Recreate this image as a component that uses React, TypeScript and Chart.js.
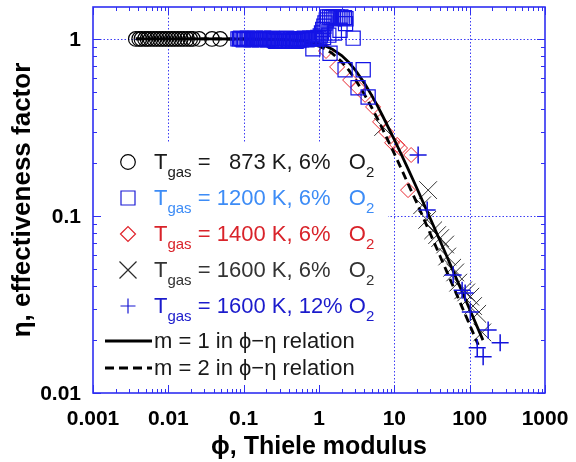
import { useEffect, useRef } from 'react';
import { Chart, registerables } from 'chart.js';

Chart.register(...registerables);

// ---------------- data ----------------
const xTickValues = [0.001, 0.01, 0.1, 1, 10, 100, 1000];
const yTickValues = [0.01, 0.1, 1];
const xGridValues = [0.01, 0.1, 1, 10, 100];
const yGridValues = [0.1, 1];

// Tgas = 873 K, 6% O2 (circles)
const phi873 = [0.0037, 0.0041, 0.0044, 0.0049, 0.0053, 0.0058, 0.0064, 0.007, 0.0077, 0.0084, 0.0092, 0.0101, 0.0111, 0.0121, 0.0133, 0.0146, 0.016, 0.0177, 0.0195, 0.0212, 0.0256, 0.038, 0.0487];
const eta873 = [1.0, 1.0, 1.0, 1.0, 1.0, 1.0, 1.0, 1.0, 1.0, 1.0, 1.0, 1.0, 1.0, 1.0, 1.0, 1.0, 1.0, 1.0, 1.0, 1.0, 1.0, 1.0, 1.0];

// Tgas = 1200 K, 6% O2 (squares)
const phi1200 = [
  0.084, 0.088, 0.091, 0.095, 0.099, 0.103, 0.108, 0.112, 0.117, 0.121, 0.127, 0.132, 0.137, 0.143, 0.149,
  0.156, 0.162, 0.169, 0.176, 0.184, 0.191, 0.199, 0.208, 0.217, 0.226, 0.236, 0.246, 0.256, 0.267, 0.278,
  0.29, 0.302, 0.315, 0.328, 0.342, 0.357, 0.372, 0.388, 0.404, 0.421, 0.439, 0.458, 0.477, 0.497, 0.518,
  0.54, 0.563, 0.587, 0.612, 0.638, 0.665, 0.693, 0.722, 0.753, 0.785, 0.818, 0.853, 0.889, 0.927, 0.966, 1.0,
  1.04, 1.08, 1.12, 1.16, 1.2, 1.25, 1.3, 1.38, 1.46, 1.55, 1.64, 1.74, 1.84, 1.95, 2.06, 2.18, 2.28, 2.25,
  1.9, 1.6, 1.35, 1.15,
  0.83, 1.4, 2.22, 3.86, 3.3, 4.49, 2.84,
];
const eta1200 = [
  1.0, 1.0, 1.01, 1.0, 0.99, 1.0, 1.0, 1.01, 1.0, 1.0, 0.99, 1.0, 1.0, 1.01, 1.0,
  1.0, 0.99, 1.0, 1.0, 1.01, 1.0, 1.0, 0.99, 1.0, 1.0, 1.01, 1.0, 0.98, 0.97, 1.0,
  0.97, 1.0, 0.98, 0.97, 1.0, 0.97, 1.01, 0.98, 0.97, 1.0, 0.97, 0.99, 1.0, 0.97, 1.0,
  0.98, 1.0, 0.99, 1.0, 1.01, 1.0, 0.99, 1.0, 1.01, 1.0, 1.0, 1.01, 1.0, 1.0, 1.02, 1.01,
  1.04, 1.08, 1.13, 1.18, 1.23, 1.28, 1.33, 1.33, 1.32, 1.33, 1.31, 1.33, 1.32, 1.33, 1.31, 1.32, 1.3, 1.22,
  1.12, 1.08, 1.05, 1.02,
  0.88, 0.83, 0.67, 0.67, 0.53, 0.47, 1.01,
];

// Tgas = 1400 K, 6% O2 (diamonds)
const phi1400 = [1.24, 1.74, 2.59, 3.3, 4.09, 5.22, 6.47, 7.78, 9.35, 10.9, 11.9, 16.7, 15.2];
const eta1400 = [0.855, 0.695, 0.586, 0.529, 0.483, 0.413, 0.34, 0.298, 0.259, 0.252, 0.242, 0.221, 0.14];

// Tgas = 1600 K, 6% O2 (crosses)
const phi1600 = [7.1, 28.1, 23.4, 27.3, 32.8, 37, 40.6, 47.3, 50.3, 58.6, 64.3, 70.4, 82.1, 90, 102, 111, 126, 147];
const eta1600 = [0.318, 0.14, 0.115, 0.095, 0.083, 0.078, 0.075, 0.069, 0.059, 0.051, 0.048, 0.042, 0.038, 0.037, 0.035, 0.031, 0.028, 0.022];

// Tgas = 1600 K, 12% O2 (plus)
const phi1600b = [20.7, 27.3, 60.4, 79.4, 87.1, 102, 176, 254, 151, 126];
const eta1600b = [0.221, 0.108, 0.0464, 0.038, 0.0367, 0.0287, 0.0227, 0.0192, 0.016, 0.018];

// m = 1 relation (solid)
const phiM1 = [0.0037, 0.01, 0.03, 0.1, 0.3, 0.5, 0.7, 1, 1.2, 1.5, 2, 2.5, 3, 4, 5, 6, 7, 10, 12, 15, 20, 30, 40, 50, 70, 100, 150];
const etaM1 = [1.0, 1.0, 1.0, 0.999, 0.994, 0.984, 0.969, 0.939, 0.916, 0.876, 0.806, 0.736, 0.672, 0.563, 0.48, 0.417, 0.367, 0.27, 0.229, 0.187, 0.143, 0.0967, 0.0731, 0.0588, 0.0422, 0.0297, 0.0199];

// m = 2 relation (dashed)
const phiM2 = [0.0037, 0.01, 0.03, 0.1, 0.3, 0.5, 0.7, 1, 1.2, 1.5, 2, 2.5, 3, 4, 5, 6, 7, 10, 12, 15, 20, 30, 40, 50, 70, 100, 130];
const etaM2 = [1.0, 1.0, 1.0, 0.999, 0.991, 0.975, 0.952, 0.91, 0.88, 0.829, 0.743, 0.664, 0.595, 0.487, 0.41, 0.353, 0.309, 0.225, 0.19, 0.154, 0.118, 0.0794, 0.06, 0.0482, 0.0346, 0.0243, 0.0187];

const yTickLabels = ['0.01', '0.1', '1'];
const legendTemps = ['873', '1200', '1400', '1600', '1600'];
const legendO2 = ['6%', '6%', '6%', '6%', '12%'];
const lineLabels = ['m = 1 in \u03D5\u2212\u03B7 relation', 'm = 2 in \u03D5\u2212\u03B7 relation'];
const xTitle = '\u03D5, Thiele modulus';
const yTitle = '\u03B7, effectiveness factor';

// ---------------- styles ----------------
const FONT = '"Liberation Sans", Arial, Helvetica, sans-serif';
const FRAME = '#2f2ff2';
const GRID = '#3c3cf4';
const markerStyles = ['circle', 'rect', 'rectRot', 'crossRot', 'cross'];
const markerColors = ['#000000', '#1c1cd6', '#e0232b', '#2a2a2a', '#1717d2'];
const textColors = ['#1a1a1a', '#3d8cf6', '#d9232a', '#333333', '#1b1bcc'];

const pts = (xs: number[], ys: number[]) => xs.map((x, i) => ({ x, y: ys[i] }));

function drawMarker(ctx: CanvasRenderingContext2D, style: string, x: number, y: number, color: string) {
  ctx.save();
  ctx.strokeStyle = color;
  ctx.lineWidth = 1.2;
  ctx.setLineDash([]);
  ctx.beginPath();
  if (style === 'circle') {
    ctx.arc(x, y, 7.3, 0, Math.PI * 2);
  } else if (style === 'rect') {
    ctx.rect(x - 7, y - 7, 14, 14);
  } else if (style === 'rectRot') {
    ctx.moveTo(x - 7.5, y);
    ctx.lineTo(x, y - 7.5);
    ctx.lineTo(x + 7.5, y);
    ctx.lineTo(x, y + 7.5);
    ctx.closePath();
  } else if (style === 'crossRot') {
    ctx.moveTo(x - 8.5, y - 8.5);
    ctx.lineTo(x + 8.5, y + 8.5);
    ctx.moveTo(x + 8.5, y - 8.5);
    ctx.lineTo(x - 8.5, y + 8.5);
  } else {
    ctx.moveTo(x - 7.5, y);
    ctx.lineTo(x + 7.5, y);
    ctx.moveTo(x, y - 7.5);
    ctx.lineTo(x, y + 7.5);
  }
  ctx.stroke();
  ctx.restore();
}

const framePlugin = {
  id: 'frameAndLegend',
  beforeDatasetsDraw(chart: any) {
    const { ctx, chartArea: ca, scales } = chart;
    const xs = scales.x;
    const ys = scales.y;
    ctx.save();
    ctx.beginPath();
    ctx.rect(ca.left, ca.top, ca.right - ca.left, ca.bottom - ca.top);
    ctx.clip();
    ctx.strokeStyle = GRID;
    ctx.lineWidth = 1;
    ctx.setLineDash([1.5, 2]);
    ctx.beginPath();
    xGridValues.forEach((v) => {
      const px = Math.round(xs.getPixelForValue(v)) + 0.5;
      ctx.moveTo(px, ca.top);
      ctx.lineTo(px, ca.bottom);
    });
    yGridValues.forEach((v) => {
      const py = Math.round(ys.getPixelForValue(v)) + 0.5;
      ctx.moveTo(ca.left, py);
      ctx.lineTo(ca.right, py);
    });
    ctx.stroke();
    // legend background
    ctx.setLineDash([]);
    ctx.fillStyle = '#ffffff';
    ctx.fillRect(ca.left + 1, ca.top + 135, 294, ca.bottom - ca.top - 136);
    ctx.restore();
  },
  afterDatasetsDraw(chart: any) {
    const { ctx, chartArea: ca } = chart;
    ctx.save();
    const mx = ca.left + 35;
    const tx = ca.left + 61;
    const rowY0 = ca.top + 155;
    const rowStep = 36;
    ctx.textAlign = 'left';
    ctx.textBaseline = 'alphabetic';
    const big = '22px ' + FONT;
    const small = '15px ' + FONT;
    ctx.font = big;
    legendTemps.forEach((t, i) => {
      const cy = rowY0 + i * rowStep;
      drawMarker(ctx, markerStyles[i], mx, cy, markerColors[i]);
      ctx.fillStyle = textColors[i];
      const base = cy + 7;
      let x = tx;
      ctx.font = big;
      ctx.fillText('T', x, base);
      x += ctx.measureText('T').width;
      ctx.font = small;
      ctx.fillText('gas', x, base + 8);
      x += ctx.measureText('gas').width;
      ctx.font = big;
      ctx.fillText(' =', x, base);
      const eqEnd = x + ctx.measureText(' =').width;
      const numRight = eqEnd + ctx.measureText(' 1200').width;
      const mid = t + ' K, ' + legendO2[i];
      const start = numRight - ctx.measureText(t).width;
      ctx.fillText(mid, start, base);
      const oX = numRight + ctx.measureText(' K, 12% ').width;
      ctx.fillText('O', oX, base);
      const after = oX + ctx.measureText('O').width;
      ctx.font = small;
      ctx.fillText('2', after, base + 8);
    });
    // line entries
    const lineYs = [rowY0 + 5 * rowStep - 1, rowY0 + 5 * rowStep + 26];
    lineLabels.forEach((lab, i) => {
      const cy = lineYs[i];
      ctx.save();
      ctx.strokeStyle = '#000';
      ctx.lineWidth = 3;
      ctx.setLineDash(i === 0 ? [] : [9, 5]);
      ctx.beginPath();
      ctx.moveTo(ca.left + 12, cy);
      ctx.lineTo(ca.left + 59, cy);
      ctx.stroke();
      ctx.restore();
      ctx.fillStyle = '#1a1a1a';
      ctx.font = big;
      ctx.fillText(lab, tx, cy + 7);
    });
    ctx.restore();
  },
  afterDraw(chart: any) {
    const { ctx, chartArea: ca, scales } = chart;
    const xs = scales.x;
    const ys = scales.y;
    ctx.save();
    // y tick labels
    ctx.fillStyle = '#000';
    ctx.font = 'bold 21px ' + FONT;
    ctx.textAlign = 'right';
    ctx.textBaseline = 'middle';
    yTickValues.forEach((v, i) => {
      ctx.fillText(yTickLabels[i], ca.left - 12, ys.getPixelForValue(v) + 1);
    });
    ctx.strokeStyle = FRAME;
    ctx.lineWidth = 1;
    ctx.setLineDash([]);
    ctx.beginPath();
    const decadesX = [0.001, 0.01, 0.1, 1, 10, 100];
    decadesX.forEach((d) => {
      for (let k = 2; k <= 9; k++) {
        const px = Math.round(xs.getPixelForValue(k * d)) + 0.5;
        ctx.moveTo(px, ca.bottom);
        ctx.lineTo(px, ca.bottom - 4);
        ctx.moveTo(px, ca.top);
        ctx.lineTo(px, ca.top + 4);
      }
    });
    xTickValues.forEach((v) => {
      const px = Math.round(xs.getPixelForValue(v)) + 0.5;
      ctx.moveTo(px, ca.bottom);
      ctx.lineTo(px, ca.bottom - 8);
      ctx.moveTo(px, ca.top);
      ctx.lineTo(px, ca.top + 8);
    });
    const decadesY = [0.01, 0.1];
    decadesY.forEach((d) => {
      for (let k = 2; k <= 9; k++) {
        const py = Math.round(ys.getPixelForValue(k * d)) + 0.5;
        ctx.moveTo(ca.left, py);
        ctx.lineTo(ca.left + 4, py);
        ctx.moveTo(ca.right, py);
        ctx.lineTo(ca.right - 4, py);
      }
    });
    yTickValues.forEach((v) => {
      const py = Math.round(ys.getPixelForValue(v)) + 0.5;
      ctx.moveTo(ca.left, py);
      ctx.lineTo(ca.left + 8, py);
      ctx.moveTo(ca.right, py);
      ctx.lineTo(ca.right - 8, py);
    });
    ctx.stroke();
    ctx.lineWidth = 1.6;
    ctx.strokeRect(ca.left, ca.top, ca.right - ca.left, ca.bottom - ca.top);
    ctx.restore();
  },
};

export default function App() {
  const canvasRef = useRef<HTMLCanvasElement | null>(null);

  useEffect(() => {
    document.body.style.margin = '0';
    const canvas = canvasRef.current;
    if (!canvas) return;
    const chart = new Chart(canvas, {
      type: 'scatter',
      data: {
        datasets: [
          {
            label: 'Tgas = 1200 K, 6% O2',
            data: pts(phi1200, eta1200),
            pointStyle: 'rect',
            pointRadius: 10,
            borderColor: '#1414e6',
            backgroundColor: 'transparent',
            pointBorderWidth: 1.2,
            showLine: false,
          },
          {
            label: 'Tgas = 1600 K, 12% O2',
            data: pts(phi1600b, eta1600b),
            pointStyle: 'cross',
            pointRadius: 8.5,
            borderColor: '#1212dc',
            backgroundColor: 'transparent',
            pointBorderWidth: 1.5,
            showLine: false,
          },
          {
            label: 'm = 1',
            data: pts(phiM1, etaM1),
            showLine: true,
            borderColor: '#000000',
            borderWidth: 2.8,
            pointRadius: 0,
            tension: 0,
          },
          {
            label: 'm = 2',
            data: pts(phiM2, etaM2),
            showLine: true,
            borderColor: '#000000',
            borderWidth: 2.8,
            borderDash: [8, 5],
            pointRadius: 0,
            tension: 0,
          },
          {
            label: 'Tgas = 1400 K, 6% O2',
            data: pts(phi1400, eta1400),
            pointStyle: 'rectRot',
            pointRadius: 7.5,
            borderColor: '#e8262e',
            backgroundColor: 'transparent',
            pointBorderWidth: 1,
            showLine: false,
          },
          {
            label: 'Tgas = 1600 K, 6% O2',
            data: pts(phi1600, eta1600),
            pointStyle: 'crossRot',
            pointRadius: 12.5,
            borderColor: '#333333',
            backgroundColor: 'transparent',
            pointBorderWidth: 1,
            showLine: false,
          },
          {
            label: 'Tgas = 873 K, 6% O2',
            data: pts(phi873, eta873),
            pointStyle: 'circle',
            pointRadius: 7.3,
            borderColor: '#000000',
            backgroundColor: 'transparent',
            pointBorderWidth: 1.2,
            showLine: false,
          },
        ],
      },
      options: {
        animation: false,
        responsive: false,
        devicePixelRatio: 1,
        layout: { autoPadding: false, padding: { top: 7, right: 31, left: 0, bottom: 0 } },
        plugins: { legend: { display: false }, tooltip: { enabled: false } },
        scales: {
          x: {
            type: 'logarithmic',
            min: 0.001,
            max: 1000,
            afterBuildTicks: (scale: any) => {
              scale.ticks = xTickValues.map((v) => ({ value: v }));
            },
            afterFit: (scale: any) => {
              scale.height = 69;
              scale.paddingLeft = 0;
              scale.paddingRight = 0;
            },
            grid: { display: false },
            border: { display: false },
            ticks: {
              autoSkip: false,
              maxRotation: 0,
              padding: 6,
              color: '#000',
              font: { family: FONT, size: 21, weight: 'bold' },
              callback: (v: any) => String(v),
            },
            title: {
              display: true,
              text: xTitle,
              color: '#000',
              font: { family: FONT, size: 25, weight: 'bold' },
              padding: { top: 0, bottom: 0 },
            },
          },
          y: {
            type: 'logarithmic',
            min: 0.01,
            max: 1.515,
            afterBuildTicks: (scale: any) => {
              scale.ticks = yTickValues.map((v) => ({ value: v }));
            },
            afterFit: (scale: any) => {
              scale.width = 93;
              scale.paddingTop = 0;
              scale.paddingBottom = 0;
            },
            grid: { display: false },
            border: { display: false },
            ticks: { display: false },
            title: {
              display: true,
              text: yTitle,
              color: '#000',
              font: { family: FONT, size: 26, weight: 'bold' },
              padding: { top: 7, bottom: 0 },
            },
          },
        },
      },
      plugins: [framePlugin],
    } as any);
    return () => chart.destroy();
  }, []);

  return (
    <div style={{ position: 'absolute', left: 0, top: 0, width: 576, height: 462, background: '#fff' }}>
      <canvas ref={canvasRef} width={576} height={462} style={{ width: 576, height: 462, display: 'block' }} />
    </div>
  );
}
